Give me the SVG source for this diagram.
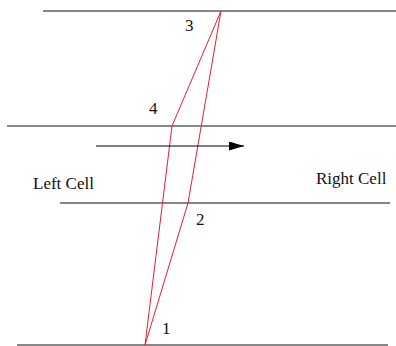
<svg xmlns="http://www.w3.org/2000/svg" width="396" height="346" viewBox="0 0 396 346">
<style>
.ln{stroke:#111;stroke-width:1.2;fill:none}
.gl{stroke:#888;stroke-width:2;fill:none}
.rd{stroke:#e02030;stroke-width:1;fill:none}
text{font-family:"Liberation Serif","Times New Roman",serif;font-size:17px;fill:#111}
</style>
<defs>
<marker id="ah" markerWidth="16" markerHeight="9" refX="15" refY="4.5" orient="auto" markerUnits="userSpaceOnUse">
<path d="M0,0 L15,4.5 L0,9 Z" fill="#000"/>
</marker>
</defs>
<g id="layers">
<line class="ln" x1="43" y1="11" x2="396" y2="11"/>
<line class="gl" x1="7" y1="126" x2="396" y2="126"/>
<line class="ln" x1="60" y1="203" x2="390" y2="203"/>
<line class="ln" x1="17" y1="345" x2="388" y2="345"/>
</g>
<g id="connectors">
<line class="rd" x1="145" y1="345" x2="188" y2="203"/>
<line class="rd" x1="188" y1="203" x2="221" y2="11"/>
<line class="rd" x1="145" y1="345" x2="172" y2="126"/>
<line class="rd" x1="172" y1="126" x2="221" y2="11"/>
<line x1="96" y1="146" x2="244" y2="146" stroke="#000" stroke-width="1.2" marker-end="url(#ah)"/>
</g>
<g id="labels">
<text x="185" y="31">3</text>
<text x="149" y="114">4</text>
<text x="196" y="225">2</text>
<text x="162" y="334">1</text>
<text x="33" y="189">Left Cell</text>
<text x="316" y="184">Right Cell</text>
</g>
</svg>
